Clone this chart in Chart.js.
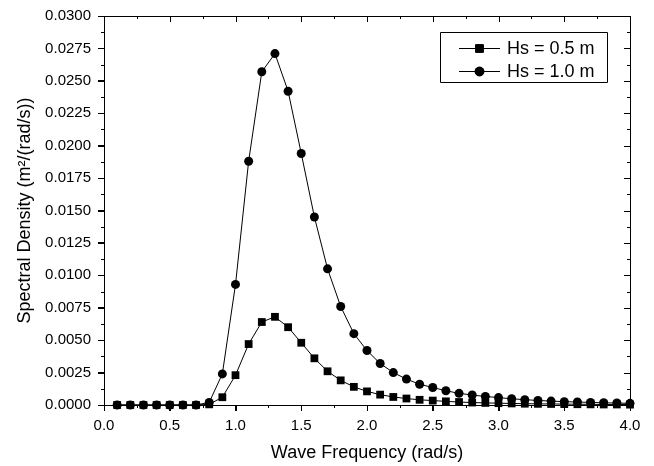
<!DOCTYPE html>
<html>
<head>
<meta charset="utf-8">
<script src="https://cdn.jsdelivr.net/npm/chart.js@4"></script>
<style>
  html, body { margin: 0; padding: 0; background: #fff; }
  #wrap { width: 654px; height: 466px; }
</style>
</head>
<body>
<div id="wrap"><canvas id="chart" width="654" height="466"></canvas></div>
<script>
const freqs = [0.1, 0.2, 0.3, 0.4, 0.5, 0.6, 0.7, 0.8, 0.9, 1.0,
  1.1, 1.2, 1.3, 1.4, 1.5, 1.6, 1.7, 1.8, 1.9, 2.0,
  2.1, 2.2, 2.3, 2.4, 2.5, 2.6, 2.7, 2.8, 2.9, 3.0,
  3.1, 3.2, 3.3, 3.4, 3.5, 3.6, 3.7, 3.8, 3.9, 4.0];

// Hs = 0.5 m (squares)
const hs05 = [0, 0, 0, 0, 0, 0, 0, 0.00005, 0.0006, 0.0023,
  0.0047, 0.0064, 0.0068, 0.0060, 0.0048, 0.0036, 0.0026, 0.0019, 0.0014, 0.00105,
  0.0008, 0.00062, 0.0005, 0.0004, 0.00034, 0.00028, 0.00023, 0.00019, 0.00016, 0.00014,
  0.00012, 0.0001, 0.00009, 0.00008, 0.00007, 0.00006, 0.00005, 0.00004, 0.00004, 0.00003];

// Hs = 1.0 m (circles)
const hs10 = [0, 0, 0, 0, 0, 0, 0, 0.0002, 0.0024, 0.0093,
  0.0188, 0.0257, 0.0271, 0.0242, 0.0194, 0.0145, 0.0105, 0.0076, 0.0055, 0.0042,
  0.0032, 0.0025, 0.0020, 0.0016, 0.00135, 0.0011, 0.0009, 0.00077, 0.00066, 0.00057,
  0.00048, 0.00041, 0.00035, 0.0003, 0.00026, 0.00023, 0.0002, 0.00017, 0.00015, 0.00013];

const seriesLabels = ['Hs = 0.5 m', 'Hs = 1.0 m'];

const FONT = '"Liberation Sans", Arial, sans-serif';

const toPoints = ys => freqs.map((x, i) => ({ x, y: ys[i] }));

// frame on top/right, inward ticks there, minor ticks everywhere, and the legend box
const framePlugin = {
  id: 'frame',
  afterDraw(chart) {
    const { ctx, chartArea: a, scales } = chart;
    const xs = scales.x;
    const ys = scales.y;
    ctx.save();
    ctx.strokeStyle = '#000';
    ctx.lineWidth = 1;
    ctx.beginPath();
    ctx.rect(a.left + 0.5, a.top + 0.5, a.right - a.left, a.bottom - a.top);
    ctx.stroke();

    ctx.beginPath();
    for (let v = 0; v <= 4.0001; v += 0.25) {
      const px = Math.round(xs.getPixelForValue(v)) + 0.5;
      const major = Math.abs(v * 2 - Math.round(v * 2)) < 1e-6;
      const len = major ? 6 : 3;
      ctx.moveTo(px, a.bottom);
      ctx.lineTo(px, a.bottom + len);
      ctx.moveTo(px, a.top);
      ctx.lineTo(px, a.top + len);
    }
    for (let i = 0; i <= 24; i++) {
      const v = i * 0.00125;
      const py = Math.round(ys.getPixelForValue(v)) + 0.5;
      const len = i % 2 === 0 ? 6 : 3;
      ctx.moveTo(a.left, py);
      ctx.lineTo(a.left - len, py);
      ctx.moveTo(a.right, py);
      ctx.lineTo(a.right - len, py);
    }
    ctx.stroke();

    // legend
    const bx = 440.5, by = 32.5, bw = 167, bh = 50;
    ctx.beginPath();
    ctx.rect(bx, by, bw, bh);
    ctx.stroke();
    ctx.font = '18px ' + FONT;
    ctx.fillStyle = '#000';
    ctx.textBaseline = 'middle';
    chart.data.datasets.forEach((ds, i) => {
      const ly = by + 16 + i * 23;
      ctx.beginPath();
      ctx.moveTo(459, ly);
      ctx.lineTo(500, ly);
      ctx.stroke();
      Chart.helpers.drawPoint(ctx, {
        pointStyle: ds.pointStyle, radius: ds.pointRadius, rotation: 0, borderWidth: 1
      }, 479.5, ly);
      ctx.fill();
      ctx.fillText(ds.label, 507, ly + 1);
    });
    ctx.restore();
  }
};

const ctx = document.getElementById('chart').getContext('2d');

new Chart(ctx, {
  type: 'line',
  data: {
    datasets: [
      {
        label: seriesLabels[0],
        data: toPoints(hs05),
        borderColor: '#000',
        backgroundColor: '#000',
        borderWidth: 1,
        pointStyle: 'rect',
        pointRadius: 5.5,
        pointBorderWidth: 0,
        clip: false,
      },
      {
        label: seriesLabels[1],
        data: toPoints(hs10),
        borderColor: '#000',
        backgroundColor: '#000',
        borderWidth: 1,
        pointStyle: 'circle',
        pointRadius: 4.5,
        pointBorderWidth: 0,
        clip: false,
      },
    ],
  },
  options: {
    responsive: false,
    animation: false,
    layout: { padding: { left: 0, top: 15, right: 24, bottom: 0 } },
    plugins: {
      legend: { display: false },
      tooltip: { enabled: false },
    },
    scales: {
      x: {
        type: 'linear',
        min: 0,
        max: 4,
        grid: { drawOnChartArea: false, drawTicks: true, tickLength: 6, color: '#000' },
        border: { display: false },
        ticks: {
          stepSize: 0.5,
          color: '#000',
          padding: 6,
          maxRotation: 0,
          font: { family: FONT, size: 15 },
          callback: v => v.toFixed(1),
        },
        title: {
          display: true,
          text: 'Wave Frequency (rad/s)',
          color: '#000',
          padding: { top: 4, bottom: 2 },
          font: { family: FONT, size: 18 },
        },
        afterFit: s => { s.height = 61; },
      },
      y: {
        min: 0,
        max: 0.03,
        grid: { drawOnChartArea: false, drawTicks: true, tickLength: 6, color: '#000' },
        border: { display: false },
        ticks: {
          stepSize: 0.0025,
          color: '#000',
          padding: 7,
          font: { family: FONT, size: 15 },
          callback: v => v.toFixed(4),
        },
        title: {
          display: true,
          text: 'Spectral Density (m\u00b2/(rad/s))',
          color: '#000',
          padding: { top: 14, bottom: 0 },
          font: { family: FONT, size: 18 },
        },
        afterFit: s => { s.width = 104; },
      },
    },
  },
  plugins: [framePlugin],
});
</script>
</body>
</html>
